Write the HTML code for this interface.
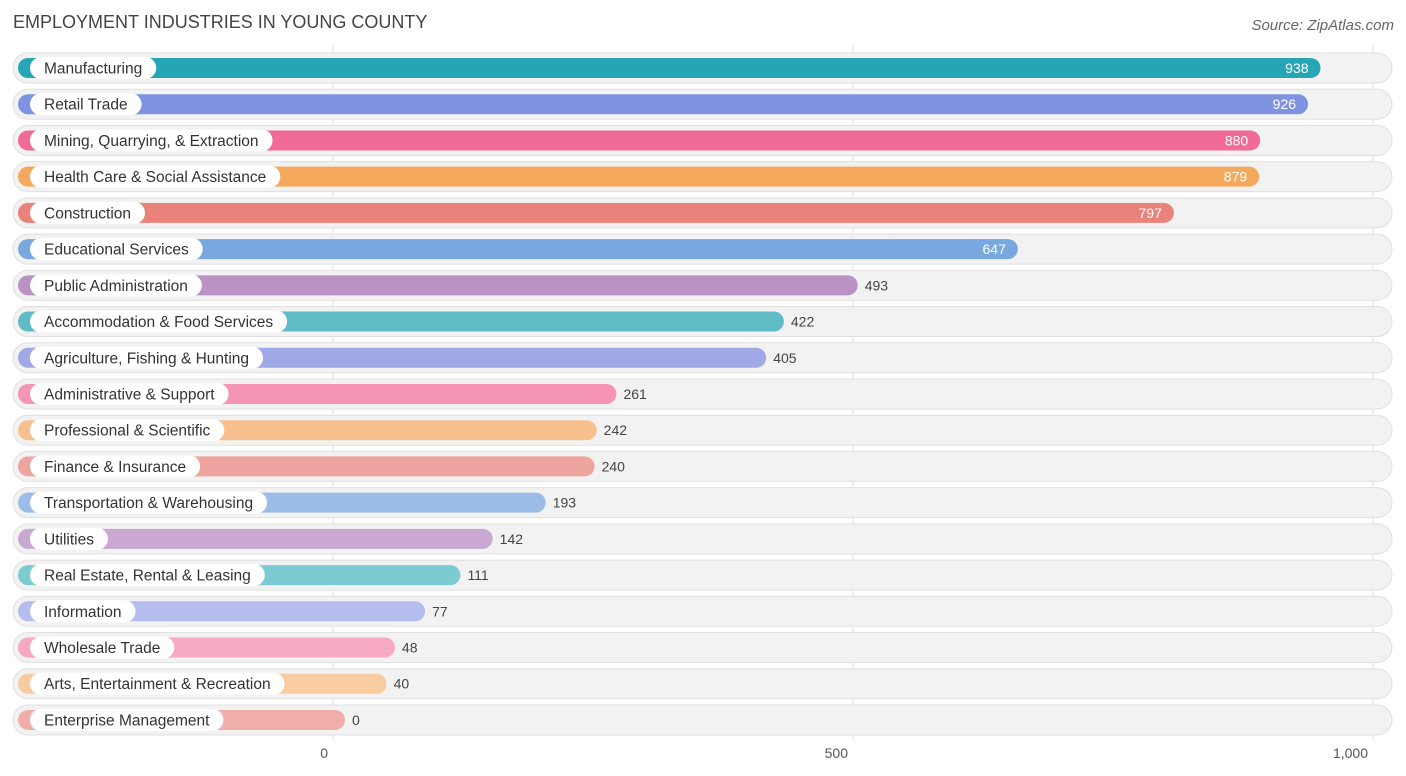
<!DOCTYPE html>
<html><head><meta charset="utf-8">
<style>
body{margin:0;background:#fff;font-family:"Liberation Sans",sans-serif;}
svg{display:block}
</style></head>
<body>
<svg id="chart" width="1406" height="776" xmlns="http://www.w3.org/2000/svg">
<text x="13" y="28" font-size="18" fill="#444" font-family="Liberation Sans, sans-serif">EMPLOYMENT INDUSTRIES IN YOUNG COUNTY</text>
<text x="1394" y="30" font-size="15" fill="#666" font-style="italic" text-anchor="end" font-family="Liberation Sans, sans-serif">Source: ZipAtlas.com</text>
<g id="grid"></g><g id="rows"></g><g id="ticks"></g>
</svg>
<script>
const categories=["Manufacturing","Retail Trade","Mining, Quarrying, & Extraction","Health Care & Social Assistance","Construction","Educational Services","Public Administration","Accommodation & Food Services","Agriculture, Fishing & Hunting","Administrative & Support","Professional & Scientific","Finance & Insurance","Transportation & Warehousing","Utilities","Real Estate, Rental & Leasing","Information","Wholesale Trade","Arts, Entertainment & Recreation","Enterprise Management"];
const values=[938,926,880,879,797,647,493,422,405,261,242,240,193,142,111,77,48,40,0];
const colors=["#26a6b5","#8093e0","#f06b96","#f5a95c","#e8827a","#79a8e0","#bb92c4","#5fbcc6","#a0a9e6","#f594b5","#f8c08e","#eea49f","#9cbde8","#c9a8d2","#7ccbd2","#b4bdee","#f7a8c3","#f9cba0","#f0aeab"];
const tickValues=[0,500,1000];
const tickLabels=["0","500","1,000"];
const NS="http://www.w3.org/2000/svg";
const x=v=>333+v*1.04;
const y=i=>68+i*36.22;
function mk(tag,attrs,parent){const e=document.createElementNS(NS,tag);for(const k in attrs)e.setAttribute(k,attrs[k]);parent.appendChild(e);return e;}
const grid=document.getElementById('grid'),rows=document.getElementById('rows'),ticks=document.getElementById('ticks');
tickValues.forEach((t,i)=>{
  const l=mk('line',{x1:x(t),x2:x(t),y1:45,y2:740,stroke:'#ddd','stroke-width':1},grid);
  
  
  const tx=mk('text',{x:x(t)-5,y:758,'font-size':14,fill:'#555','text-anchor':'end'},ticks);
  
  
  tx.textContent=tickLabels[i];
});
categories.forEach((c,i)=>{
  const cy=y(i);
  const g=mk('g',{},rows);
  
  
  mk('rect',{x:13,y:cy-15,width:1379,height:30,rx:15,fill:'#f2f2f2',stroke:'#e0e0e0','stroke-width':1},g);
  const end=x(values[i])+12;
  const b=mk('rect',{x:18,y:cy-10,width:end-18,height:20,rx:10,fill:colors[i]},g);
  
  
  const lbl=mk('text',{x:44,y:cy+5.5,'font-size':15.5,fill:'#333'},g);
  lbl.textContent=c;
  const w=lbl.getComputedTextLength();
  const pill=mk('rect',{x:30,y:cy-11,width:w+28,height:22,rx:11,fill:'#fff'},g);
  g.insertBefore(pill,lbl);
  
  
  const inside=values[i]>=600;
  const v=mk('text',{x:inside?end-12:end+7,y:cy+5,'font-size':14,fill:inside?'#fff':'#444','text-anchor':inside?'end':'start'},g);
  
  
  v.textContent=values[i];
});
</script>
</body></html>
